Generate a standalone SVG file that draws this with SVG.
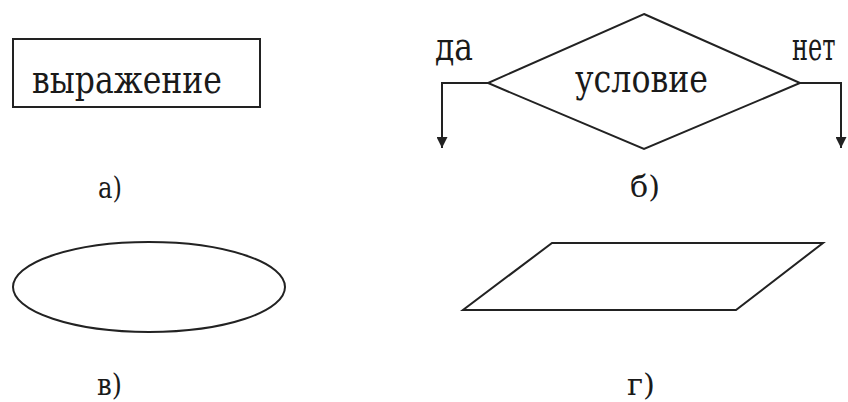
<svg xmlns="http://www.w3.org/2000/svg" width="848" height="402" viewBox="0 0 848 402">
<style>
.s{fill:#fff;stroke:#222;stroke-width:2}
.c{fill:none;stroke:#222;stroke-width:2}
text{font-family:"DejaVu Serif","Liberation Serif",serif;fill:#1a1a1a}
.t{font-size:40px}
.l{font-size:30px}
</style>
<defs>
<marker id="arr" viewBox="0 0 10 10" refX="10" refY="5" markerWidth="11" markerHeight="11" markerUnits="userSpaceOnUse" orient="auto">
<path d="M0,0 L10,5 L0,10 Z" fill="#222"/>
</marker>
</defs>
<rect width="848" height="402" fill="#fff"/>
<g id="node-a">
<rect class="s" x="13" y="39" width="247" height="68"/>
<text class="t" x="32" y="93" textLength="190" lengthAdjust="spacingAndGlyphs">выражение</text>
</g>
<g id="node-b">
<polygon class="s" points="644,14 800,83 644,149 488,83"/>
<text class="t" x="575" y="92" textLength="133" lengthAdjust="spacingAndGlyphs">условие</text>
</g>
<g id="connectors">
<polyline class="c" points="488,83 442,83 442,148" marker-end="url(#arr)"/>
<polyline class="c" points="800,83 841,83 841,148" marker-end="url(#arr)"/>
</g>
<g id="labels-b">
<text class="t" x="435" y="60" textLength="38" lengthAdjust="spacingAndGlyphs">да</text>
<text class="t" transform="translate(792,60) scale(0.6,1)" x="0" y="0">нет</text>
</g>
<g id="node-v">
<ellipse class="s" cx="149" cy="287" rx="136" ry="45"/>
</g>
<g id="node-g">
<polygon class="s" points="552,243 823,243 736,310 463,310"/>
</g>
<g id="captions">
<text class="l" x="98" y="198" textLength="24" lengthAdjust="spacingAndGlyphs">а)</text>
<text class="l" x="630" y="197" textLength="30" lengthAdjust="spacingAndGlyphs">б)</text>
<text class="l" x="97" y="395" textLength="25" lengthAdjust="spacingAndGlyphs">в)</text>
<text class="l" x="627" y="395" textLength="28" lengthAdjust="spacingAndGlyphs">г)</text>
</g>
</svg>
